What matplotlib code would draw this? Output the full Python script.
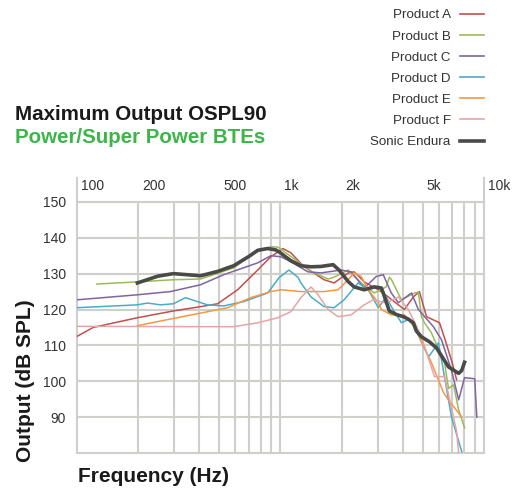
"""Maximum output OSPL90 curves, power/super power BTEs."""

import matplotlib

matplotlib.use("Agg")
import matplotlib.pyplot as plt
import matplotlib.transforms as mtransforms
from matplotlib.lines import Line2D

plt.rcParams["font.family"] = ["Liberation Sans", "DejaVu Sans"]

# --- data (Hz, dB SPL) ---
freq_a = [100, 120, 198, 298, 405, 491, 616, 773, 897, 1028, 1125, 1304, 1638,
          1835, 2152, 2302, 2582, 3027, 3388, 4064, 4500, 4819, 5224, 6053,
          6412, 7000, 7345]
db_a = [112.5, 115.0, 117.7, 119.6, 120.8, 121.6, 125.5, 131.0, 134.7, 137.0,
        135.8, 132.0, 128.3, 127.4, 130.2, 130.5, 127.7, 125.5, 123.5, 120.0,
        123.5, 125.0, 118.0, 116.3, 112.0, 105.0, 100.4]

freq_b = [125, 198, 298, 405, 589, 739, 897, 971, 1125, 1413, 1715, 1835, 2152,
          2494, 2891, 3311, 3428, 3508, 3930, 4553, 4764, 4932, 5105, 5521,
          6412, 6699, 7096, 7516, 8035]
db_b = [127.1, 127.7, 128.3, 128.5, 131.6, 135.8, 137.5, 137.4, 134.8, 130.6,
        128.5, 129.0, 131.0, 127.4, 124.6, 126.3, 129.0, 128.4, 122.7, 124.6,
        124.8, 118.0, 116.3, 113.5, 105.0, 98.0, 99.0, 92.0, 87.0]

freq_c = [100, 198, 288, 405, 526, 773, 897, 1005, 1125, 1365, 1583, 1986, 2225,
          2582, 2958, 3201, 3508, 3796, 4406, 4764, 5649, 6194, 6934, 7516,
          8035, 9015, 9226]
db_c = [122.7, 124.1, 125.0, 126.9, 129.7, 133.0, 135.0, 134.7, 133.3, 130.5,
        130.2, 131.0, 130.5, 126.0, 129.2, 129.7, 124.6, 121.9, 124.6, 120.0,
        115.2, 111.5, 103.0, 94.8, 101.0, 100.7, 90.0]

freq_d = [100, 198, 222, 257, 298, 341, 391, 438, 526, 659, 866, 982, 1100, 1218,
          1261, 1413, 1638, 1835, 2055, 2410, 2700, 3027, 3311, 3508, 3930,
          4256, 4553, 5346, 5984, 6934, 7780]
db_d = [120.5, 121.3, 121.8, 121.3, 121.6, 123.3, 122.2, 121.3, 121.0, 122.2,
        124.6, 128.8, 131.0, 129.0, 127.4, 123.5, 120.8, 120.5, 122.7, 127.4,
        125.5, 120.5, 123.5, 120.8, 116.3, 117.2, 115.2, 106.8, 110.7, 90.0,
        80.4]

freq_e = [198, 405, 550, 714, 897, 1005, 1261, 1638, 1920, 2152, 2302, 2494, 2700,
          3027, 3133, 3508, 4064, 4553, 5521, 6338, 6699, 7780]
db_e = [115.5, 119.0, 120.5, 123.3, 125.0, 125.5, 125.0, 125.0, 125.5, 128.3,
        130.2, 129.2, 125.5, 121.9, 120.0, 118.5, 118.5, 115.2, 105.2, 96.8,
        94.8, 90.0]

freq_f = [100, 589, 773, 971, 1125, 1261, 1413, 1530, 1715, 1920, 2225, 2582,
          2858, 3311, 3796, 4256, 4932, 5715, 6412, 7345, 7516]
db_f = [115.3, 115.2, 116.3, 117.7, 119.4, 123.3, 126.3, 124.1, 120.0, 118.0,
        118.5, 121.3, 122.7, 121.8, 123.5, 120.0, 112.4, 101.3, 101.3, 86.0,
        80.0]

freq_endura = [198, 250, 298, 405, 490, 589, 700, 773, 866, 950, 1005, 1125,
               1261, 1413, 1583, 1815, 1941, 2152, 2302, 2582, 2891, 3133, 3201,
               3428, 3715, 4018, 4256, 4500, 4656, 4932, 5398, 5848, 6699, 7516,
               7780, 8035]
db_endura = [127.4, 129.3, 130.0, 129.4, 130.6, 132.2, 134.8, 136.5, 137.0,
             136.6, 135.7, 133.6, 132.2, 131.9, 132.0, 132.5, 131.0, 127.8,
             126.3, 125.5, 126.3, 126.0, 124.6, 119.6, 118.6, 118.0, 117.3,
             116.3, 114.0, 112.4, 111.0, 109.3, 104.0, 102.2, 103.0, 105.3]

series = [
    ("Product A", freq_a, db_a, "#c0504d"),
    ("Product B", freq_b, db_b, "#9bbb59"),
    ("Product C", freq_c, db_c, "#8064a2"),
    ("Product D", freq_d, db_d, "#4bacc6"),
    ("Product E", freq_e, db_e, "#f79646"),
    ("Product F", freq_f, db_f, "#e6a5a5"),
]

top_ticks = [100, 200, 500, 1000, 2000, 5000, 10000]
top_labels = ["100", "200", "500", "1k", "2k", "5k", "10k"]
y_ticks = [90, 100, 110, 120, 130, 140, 150]

GRID = "#cfcfcb"
TEXT = "#333333"

fig = plt.figure(figsize=(5.22, 4.9), dpi=100)
ax = fig.add_axes([0.1475, 0.0755, 0.7795, 0.5125])

for name, f, db, color in series:
    ax.plot(f, db, color=color, lw=1.1, zorder=3)
ax.plot(freq_endura, db_endura, color="#4a4a48", lw=2.6, zorder=4,
        solid_joinstyle="round")

ax.set_xscale("log")
ax.set_xlim(100, 10000)
ax.set_ylim(80, 150)

minor = [m * d for d in (100, 1000) for m in range(2, 10)]
ax.set_xticks(top_ticks[::3])
ax.set_xticks(minor, minor=True)
ax.set_yticks(y_ticks)
ax.set_xticklabels([])
ax.set_xticklabels([], minor=True)
ax.tick_params(axis="both", which="both", length=0)
ax.tick_params(axis="y", labelsize=10, labelcolor=TEXT, pad=8)
ax.grid(True, which="both", color=GRID, lw=1.5)
ax.set_axisbelow(True)
for sp in ax.spines.values():
    sp.set_color(GRID)
    sp.set_linewidth(1.5)

# frequency labels sit above the plot, to the right of their gridline
trans = ax.get_xaxis_transform()
lab_trans = mtransforms.offset_copy(trans, fig=fig, x=4, y=16, units="dots")
for f, lbl in zip(top_ticks, top_labels):
    ax.text(f, 1.0, lbl, transform=lab_trans, ha="left", va="center",
            fontsize=10, color=TEXT)
for f in (100, 10000):
    ax.plot([f, f], [1.0, 1.096], transform=trans, color=GRID, lw=1.5,
            clip_on=False)

fig.text(0.048, 0.224, "Output (dB SPL)", rotation=90, ha="center",
         va="center", fontsize=15, fontweight="bold", color="#1a1a1a")
fig.text(0.149, 0.027, "Frequency (Hz)", ha="left", va="center",
         fontsize=15, fontweight="bold", color="#1a1a1a")

fig.text(0.029, 0.766, "Maximum Output OSPL90", ha="left", va="center",
         fontsize=14.8, fontweight="bold", color="#1a1a1a")
fig.text(0.029, 0.72, "Power/Super Power BTEs", ha="left", va="center",
         fontsize=14.8, fontweight="bold", color="#3db54a")

handles = [Line2D([], [], color=c, lw=1.2) for _, _, _, c in series]
handles.append(Line2D([], [], color="#4a4a48", lw=2.6))
labels = [s[0] for s in series] + ["Sonic Endura"]
fig.legend(handles, labels, loc="upper right", bbox_to_anchor=(0.95, 1.006),
           frameon=False, markerfirst=False, fontsize=9.6, handlelength=1.8,
           handletextpad=0.7, labelspacing=0.66, labelcolor=TEXT)

fig.savefig("out.png", dpi=100)
